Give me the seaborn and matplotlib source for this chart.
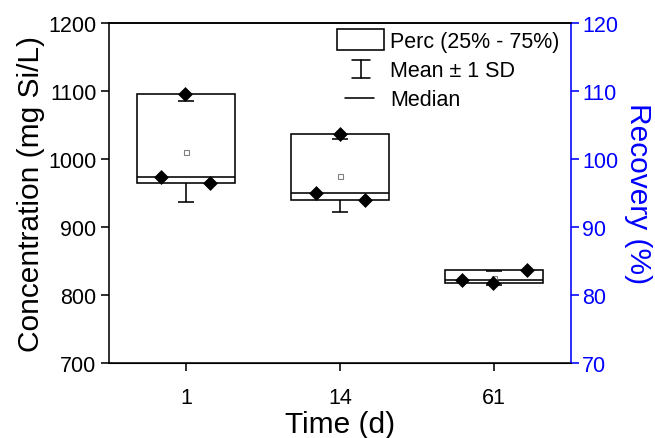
import numpy as np
import pandas as pd
import matplotlib
matplotlib.use("Agg")
import matplotlib.pyplot as plt
import seaborn as sns
from matplotlib.legend_handler import HandlerBase
from matplotlib.lines import Line2D
from matplotlib.patches import Rectangle

# ---------------- data ----------------
time_labels = ["1", "14", "61"]
conc_day1 = [973, 1096, 964]
conc_day14 = [950, 1037, 939]
conc_day61 = [822, 817, 837]
conc_ticks = [700, 800, 900, 1000, 1100, 1200]
recovery_ticks = [70, 80, 90, 100, 110, 120]

# ---------------- layout / style ----------------
POINT_OFFSETS = [[-0.163, -0.005, 0.157],
                 [-0.157, 0.000, 0.163],
                 [-0.209, -0.007, 0.216]]
BOX_WIDTH = 0.64
CAP_WIDTH = 0.11
LW = 1.15
BLUE = "#0000FF"
LABEL_FS = 21.5
TICK_FS = 15.5

sns.set_style("ticks", {"axes.edgecolor": "black", "xtick.color": "black",
                        "ytick.color": "black", "text.color": "black",
                        "axes.labelcolor": "black"})
plt.rcParams["font.family"] = ["Liberation Sans", "DejaVu Sans"]

groups = [conc_day1, conc_day14, conc_day61]
rows = []
for i, (lab, vals) in enumerate(zip(time_labels, groups)):
    for j, v in enumerate(vals):
        rows.append({"time": lab, "pos": i + POINT_OFFSETS[i][j], "conc": v})
df = pd.DataFrame(rows)

fig = plt.figure(figsize=(6.55, 4.39), dpi=100)
ax = fig.add_axes([0.1664, 0.1708, 0.7054, 0.7745])

for i, vals in enumerate(groups):
    arr = np.asarray(vals, dtype=float)
    q1, q3 = np.percentile(arr, [25, 75], method="weibull")
    med = np.median(arr)
    mean = arr.mean()
    sd = arr.std(ddof=1)
    lo, hi = mean - sd, mean + sd
    ax.bar(i, q3 - q1, bottom=q1, width=BOX_WIDTH, facecolor="white",
           edgecolor="black", linewidth=LW, zorder=2)
    ax.hlines(med, i - BOX_WIDTH / 2, i + BOX_WIDTH / 2, color="black",
              lw=LW, zorder=3)
    if lo < q1:
        ax.vlines(i, lo, q1, color="black", lw=LW, zorder=3)
    if hi > q3:
        ax.vlines(i, q3, hi, color="black", lw=LW, zorder=3)
    ax.hlines([lo, hi], i - CAP_WIDTH / 2, i + CAP_WIDTH / 2, color="black",
              lw=LW, zorder=3)
    ax.plot(i, mean, marker="s", ms=3.6, mfc="white", mec="#808080",
            mew=0.8, zorder=4)

sns.scatterplot(data=df, x="pos", y="conc", marker="D", s=50, color="black",
                edgecolor="black", linewidth=0.5, zorder=5, legend=False, ax=ax)

ax.set_xlim(-0.5, 2.5)
ax.set_ylim(conc_ticks[0], conc_ticks[-1])
ax.set_xticks(range(len(time_labels)))
ax.set_xticklabels(time_labels)
ax.set_yticks(conc_ticks)
ax.set_xlabel("Time (d)", fontsize=LABEL_FS, labelpad=2)
ax.set_ylabel("Concentration (mg Si/L)", fontsize=LABEL_FS, labelpad=2)
ax.tick_params(axis="both", labelsize=TICK_FS, width=LW, length=6, direction="out")
ax.tick_params(axis="x", pad=11)
ax.tick_params(axis="y", pad=3)
for s in ["left", "bottom", "top"]:
    ax.spines[s].set_visible(True)
    ax.spines[s].set_linewidth(LW)
    ax.spines[s].set_color("black")
ax.spines["right"].set_visible(False)

ax2 = ax.twinx()
ax2.set_ylim(recovery_ticks[0], recovery_ticks[-1])
ax2.set_yticks(recovery_ticks)
ax2.tick_params(axis="y", colors=BLUE, labelsize=TICK_FS, width=LW, length=6, pad=2)
ax2.spines["right"].set_color(BLUE)
ax2.spines["right"].set_linewidth(LW)
ax2.spines["left"].set_visible(False)
ax2.spines["top"].set_linewidth(LW)
ax2.set_ylabel("Recovery (%)", color=BLUE, fontsize=LABEL_FS, rotation=270,
               labelpad=24)


class BoxHandler(HandlerBase):
    def create_artists(self, legend, orig_handle, xdescent, ydescent, width,
                       height, fontsize, trans):
        r = Rectangle((-xdescent, -ydescent), width, height, facecolor="white",
                      edgecolor="black", lw=LW, transform=trans)
        return [r]


class SDHandler(HandlerBase):
    def create_artists(self, legend, orig_handle, xdescent, ydescent, width,
                       height, fontsize, trans):
        cx = -xdescent + width * 0.5
        y0 = -ydescent + height * 0.05
        y1 = -ydescent + height * 0.95
        cw = width * 0.19
        arts = [Line2D([cx, cx], [y0, y1], color="black", lw=LW, transform=trans),
                Line2D([cx - cw, cx + cw], [y0, y0], color="black", lw=LW, transform=trans),
                Line2D([cx - cw, cx + cw], [y1, y1], color="black", lw=LW, transform=trans)]
        return arts


class MedianHandler(HandlerBase):
    def create_artists(self, legend, orig_handle, xdescent, ydescent, width,
                       height, fontsize, trans):
        y = -ydescent + height / 2
        return [Line2D([-xdescent + width * 0.17, -xdescent + width * 0.79],
                       [y, y], color="black", lw=LW, transform=trans)]


h_box, h_sd, h_med = Line2D([], []), Line2D([], []), Line2D([], [])
leg = ax2.legend([h_box, h_sd, h_med],
                 ["Perc (25% - 75%)", "Mean \u00b1 1 SD", "Median"],
                 handler_map={h_box: BoxHandler(), h_sd: SDHandler(),
                              h_med: MedianHandler()},
                 loc="upper right", bbox_to_anchor=(1.0, 1.016), frameon=False,
                 fontsize=TICK_FS, handlelength=2.2, handleheight=1.1,
                 labelspacing=0.3, handletextpad=0.25, borderaxespad=0.15)

fig.savefig("out.png", dpi=100)
